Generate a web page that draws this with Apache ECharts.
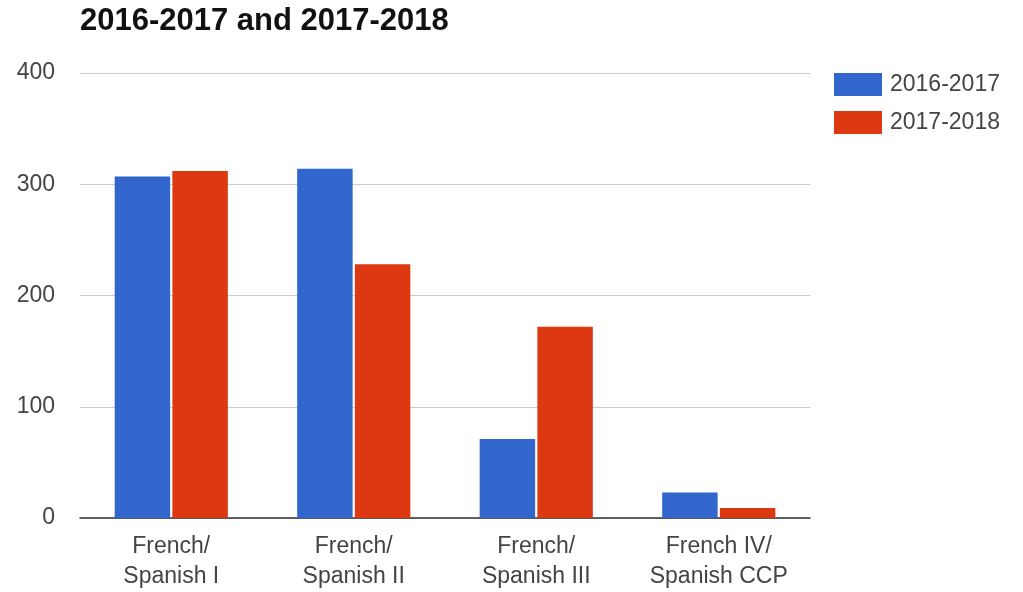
<!DOCTYPE html>
<html><head><meta charset="utf-8">
<script src="https://cdn.jsdelivr.net/npm/echarts@6/dist/echarts.min.js"></script>
<style>html,body{margin:0;padding:0;background:#fff}#c{width:1023px;height:592px}</style>
</head><body><div id="c"></div>
<script>
const categories = ['French/\nSpanish I', 'French/\nSpanish II', 'French/\nSpanish III', 'French IV/\nSpanish CCP'];
const series2016 = [307, 314, 71, 23];
const series2017 = [312, 228, 172, 9];
const yTicks = [0, 100, 200, 300, 400];

const chart = echarts.init(document.getElementById('c'));
chart.setOption({
  backgroundColor: '#fff',
  animation: false,
  title: {
    text: '2016-2017 and 2017-2018',
    left: 80, top: 6, padding: 0,
    textStyle: {fontFamily: 'Liberation Sans', fontSize: 31, fontWeight: 'bold', color: '#111'}
  },
  legend: {
    orient: 'vertical', left: 834, top: 72, padding: 0,
    itemWidth: 48, itemHeight: 23, itemGap: 13,
    icon: 'rect',
    textStyle: {fontFamily: 'Liberation Sans', fontSize: 23, lineHeight: 23, color: '#444', padding: [2, 0, 0, 3]},
    data: ['2016-2017', '2017-2018']
  },
  grid: {left: 80, right: 213, top: 73, height: 450},
  xAxis: {
    type: 'category', data: categories,
    axisLine: {lineStyle: {color: '#333', width: 1.5}},
    axisTick: {show: false},
    axisLabel: {fontFamily: 'Liberation Sans', fontSize: 23, color: '#444', lineHeight: 30, margin: 14}
  },
  yAxis: {
    type: 'value', min: 0, max: 400, interval: 100,
    axisLine: {show: false}, axisTick: {show: false},
    splitLine: {lineStyle: {color: '#ccc'}},
    axisLabel: {fontFamily: 'Liberation Sans', fontSize: 23, color: '#444', margin: 25,
      formatter: v => yTicks.includes(v) ? String(v) : ''}
  },
  series: [
    {name: '2016-2017', type: 'bar', data: series2016, itemStyle: {color: '#3366cc'}, barGap: '4%', barCategoryGap: '38%'},
    {name: '2017-2018', type: 'bar', data: series2017, itemStyle: {color: '#dc3912'}, barGap: '4%', barCategoryGap: '38%'}
  ]
});
</script></body></html>
